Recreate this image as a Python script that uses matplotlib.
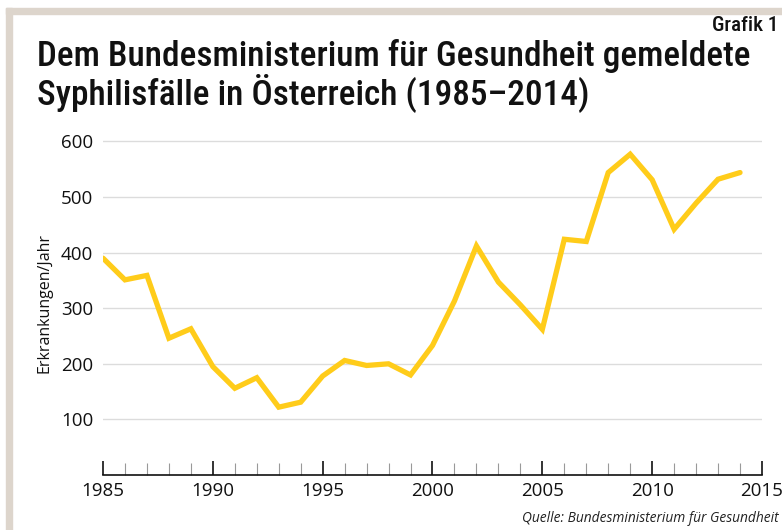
import matplotlib.pyplot as plt
from matplotlib import font_manager
from matplotlib.patches import Rectangle
from matplotlib.ticker import MultipleLocator

years = list(range(1985, 2015))
cases = [390, 351, 359, 246, 263, 195, 156, 175, 122, 131,
         178, 206, 197, 200, 180, 233, 313, 412, 347, 306,
         262, 424, 420, 544, 577, 531, 442, 489, 532, 544]
y_ticks = [100, 200, 300, 400, 500, 600]
x_ticks = [1985, 1990, 1995, 2000, 2005, 2010, 2015]

title = "Dem Bundesministerium für Gesundheit gemeldete\nSyphilisfälle in Österreich (1985–2014)"
ylabel = "Erkrankungen/Jahr"
source = "Quelle: Bundesministerium für Gesundheit"
label = "Grafik 1"

tick_font = "Open Sans"


def pick_font(names):
    for n in names:
        try:
            font_manager.findfont(n, fallback_to_default=False)
            return n
        except ValueError:
            pass
    return "DejaVu Sans"


head_font = pick_font(["Roboto Condensed", "Liberation Sans Narrow",
                       "Open Sans Condensed", "Roboto"])

fig = plt.figure(figsize=(7.82, 5.3), dpi=100)
W, H = 782, 530

# beige frame on top and left
frame = "#ddd5cc"
fig.patches.append(Rectangle((6 / W, 1 - 14 / H), 1, 6 / H, transform=fig.transFigure,
                             color=frame, zorder=0))
fig.patches.append(Rectangle((6 / W, 0), 6 / W, 1 - 8 / H, transform=fig.transFigure,
                             color=frame, zorder=0))

ax = fig.add_axes([103 / W, 1 - 475 / H, (762 - 103) / W, (475 - 130.3) / H])
ax.plot(years, cases, color="#ffcc1a", lw=3.8, solid_joinstyle="miter",
        solid_capstyle="round", zorder=3)

ax.set_xlim(1985, 2015)
ax.set_ylim(0, 620)
ax.set_yticks(y_ticks)
ax.set_xticks(x_ticks)
ax.xaxis.set_minor_locator(MultipleLocator(1))
ax.grid(axis="y", color="#dcdcdc", lw=1)
ax.set_axisbelow(True)

for s in ["top", "right", "left"]:
    ax.spines[s].set_visible(False)
ax.spines["bottom"].set_color("#111111")
ax.spines["bottom"].set_linewidth(1.2)

ax.tick_params(axis="y", length=0, pad=7, labelsize=13.5, labelcolor="#111111")
ax.tick_params(axis="x", which="major", direction="in", length=10, width=1.2,
               color="#111111", pad=5, labelsize=13.5, labelcolor="#111111")
ax.tick_params(axis="x", which="minor", direction="in", length=9, width=0.8,
               color="#999999")
for t in ax.get_xticklabels() + ax.get_yticklabels():
    t.set_fontfamily(tick_font)

ax.set_ylabel(ylabel, fontsize=11.5, fontfamily=tick_font, color="#111111", labelpad=6)

t_title = fig.text(37 / W, 1 - 39 / H, title, fontsize=22, fontfamily=head_font,
                   fontweight="medium", va="top", ha="left", linespacing=1.0,
                   color="#111111")
t_label = fig.text(778 / W, 1 - 16 / H, label, fontsize=12.5, fontfamily=head_font,
                   fontweight="medium", va="top", ha="right", color="#111111")
fig.text(779 / W, 1 - 519 / H, source, fontsize=9.9, fontfamily=tick_font,
         style="italic", va="center", ha="right", color="#222222")

# fit title width to the reference (about 711 px)
r = fig.canvas.get_renderer()
w = t_title.get_window_extent(r).width
t_title.set_fontsize(22 * 711 / w)
w = t_label.get_window_extent(r).width
t_label.set_fontsize(12.5 * 66 / w)

fig.savefig("out.png", dpi=100)
